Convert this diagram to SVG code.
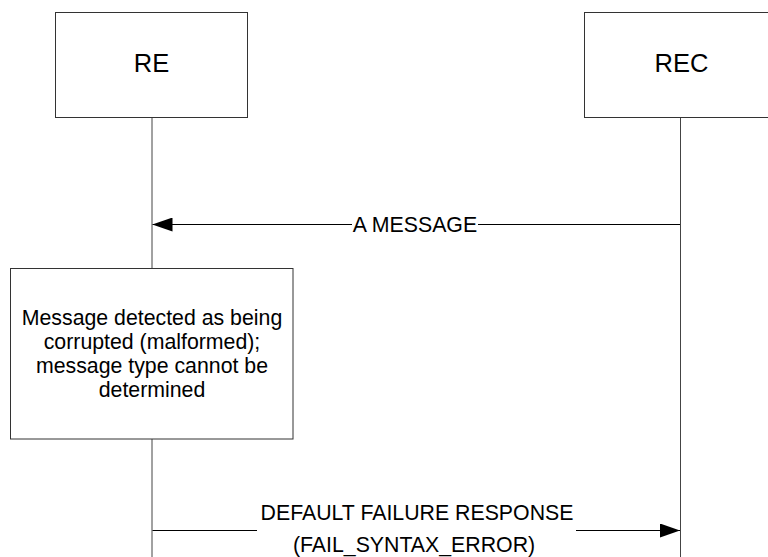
<svg xmlns="http://www.w3.org/2000/svg" width="768" height="557" viewBox="0 0 768 557">
<style>
.box{fill:#fff;stroke:#333;stroke-width:1}
.life{stroke:#444;stroke-width:1;fill:none}
.msg{stroke:#000;stroke-width:1;fill:none}
text{font-family:"Liberation Sans",Arial,sans-serif;fill:#000;text-anchor:middle}
.big{font-size:25.5px}
.lbl{font-size:21.3px}
</style>
<defs>
<marker id="ah" markerWidth="20" markerHeight="14" refX="20" refY="7" orient="auto" markerUnits="userSpaceOnUse">
<path d="M0,0 L20,7 L0,14 Z" fill="#000"/>
</marker>
</defs>
<rect width="768" height="557" fill="#fff"/>
<g id="lifelines">
<line class="life" x1="152" y1="117" x2="152" y2="268"/>
<line class="life" x1="152" y1="439" x2="152" y2="557"/>
<line class="life" x1="680.5" y1="117" x2="680.5" y2="557"/>
</g>
<g id="RE">
<rect class="box" x="55.5" y="12.5" width="192" height="105"/>
<text class="big" x="151.5" y="72">RE</text>
</g>
<g id="REC">
<rect class="box" x="584.5" y="12.5" width="192" height="105"/>
<text class="big" x="681.5" y="72">REC</text>
</g>
<g id="note">
<rect class="box" x="10.5" y="268.5" width="282.5" height="170.5"/>
<text class="lbl" x="152" y="325">Message detected as being</text>
<text class="lbl" x="152" y="348.5">corrupted (malformed);</text>
<text class="lbl" x="152" y="372.5">message type cannot be</text>
<text class="lbl" x="152" y="397">determined</text>
</g>
<g id="connectors">
<line class="msg" x1="680" y1="224.5" x2="478" y2="224.5"/>
<line class="msg" x1="352" y1="224.5" x2="152.5" y2="224.5" marker-end="url(#ah)"/>
<text class="lbl" x="415" y="231.5">A MESSAGE</text>
<line class="msg" x1="152.5" y1="530.5" x2="257" y2="530.5"/>
<line class="msg" x1="576" y1="530.5" x2="680" y2="530.5" marker-end="url(#ah)"/>
<text class="lbl" x="417" y="520">DEFAULT FAILURE RESPONSE</text>
<text class="lbl" x="414" y="552">(FAIL_SYNTAX_ERROR)</text>
</g>
</svg>
